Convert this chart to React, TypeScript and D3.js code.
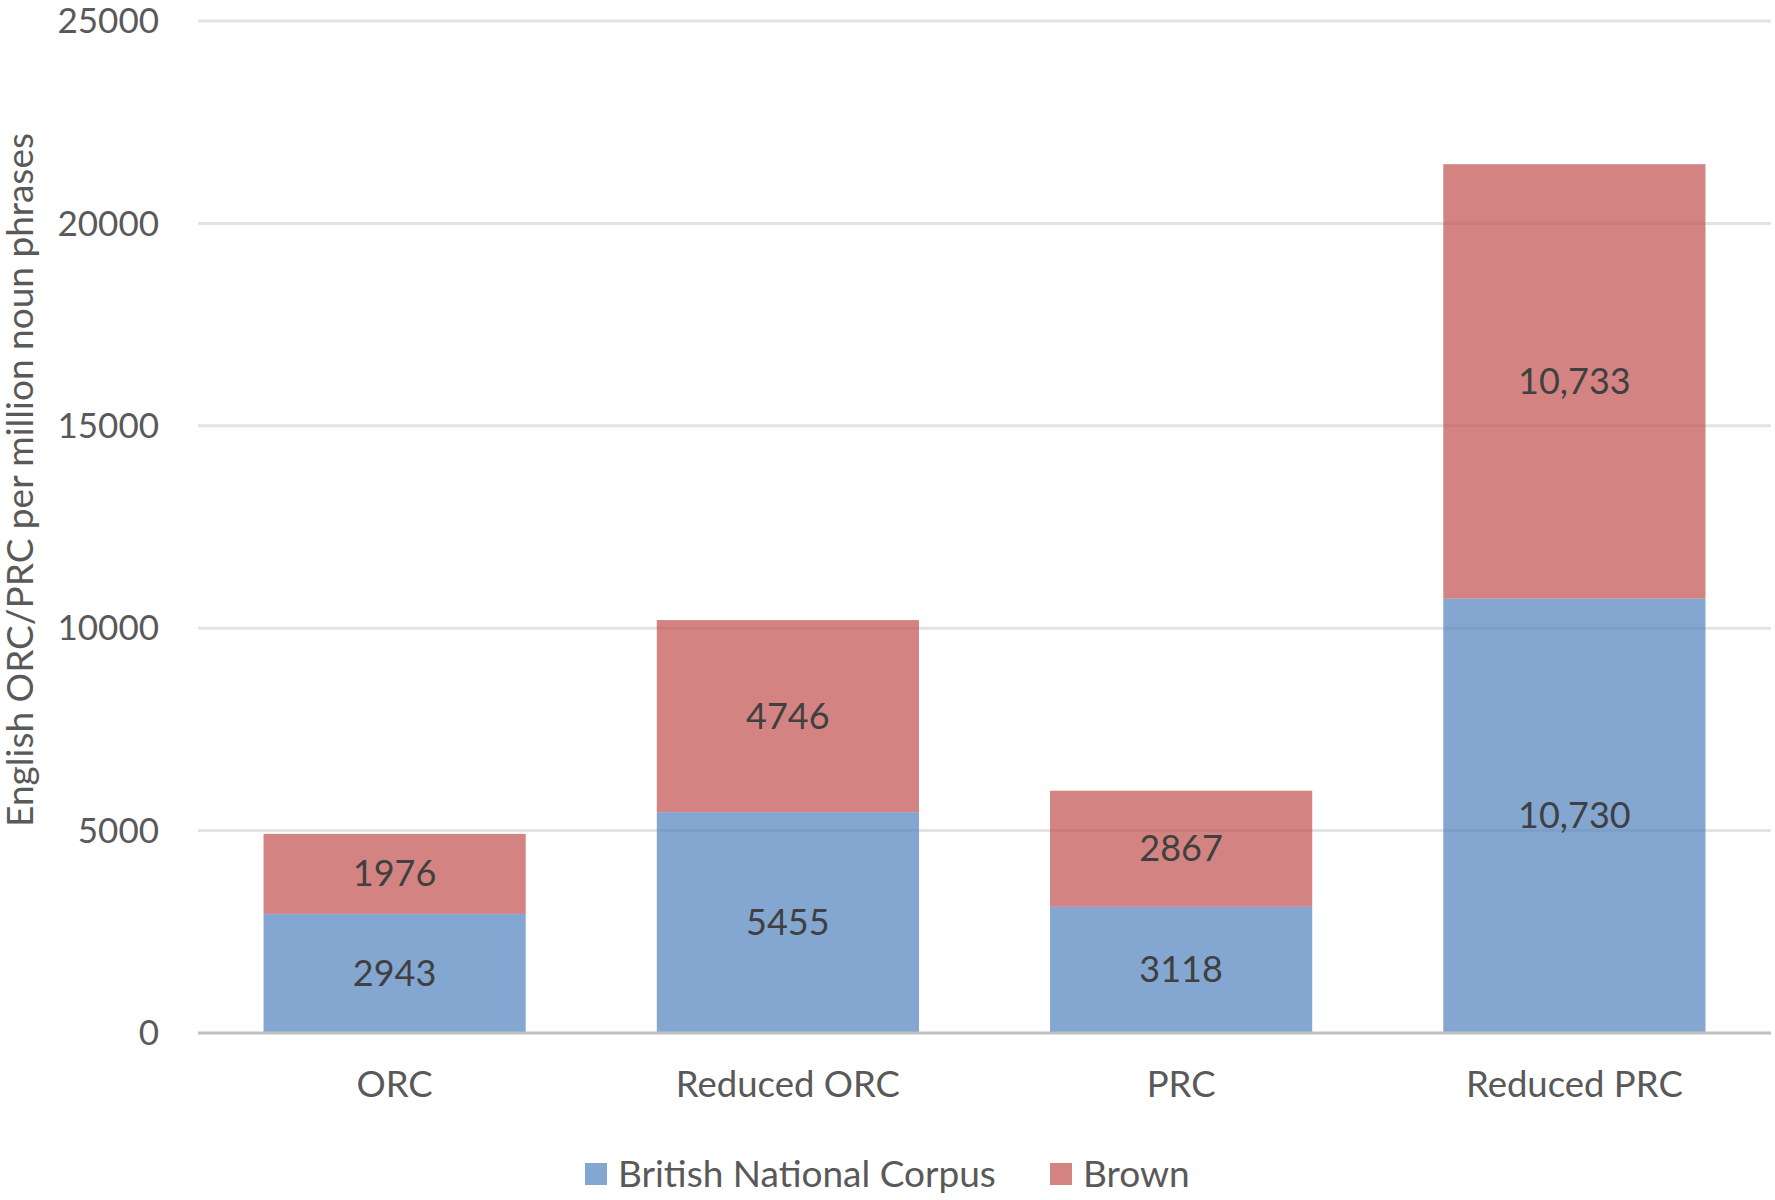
import React from "react";
import * as d3 from "d3";

const categories = ["ORC", "Reduced ORC", "PRC", "Reduced PRC"];
const seriesNames = ["British National Corpus", "Brown"];
const bncValues = [2943, 5455, 3118, 10730];
const brownValues = [1976, 4746, 2867, 10733];
const yTicks = [0, 5000, 10000, 15000, 20000, 25000];
const yTitle = "English ORC/PRC per million noun phrases";

const W = 1775;
const H = 1200;
const FONT = "Lato, 'Open Sans', sans-serif";
const colors = ["#4F81BD", "#C0504D"];

export default function App() {
  const x = d3.scaleBand<string>().domain(categories).range([198, 1771]).paddingInner(1 / 3).paddingOuter(1 / 6);
  const y = d3.scaleLinear().domain([0, 25000]).range([1033, 21]);

  const rows = categories.map((c, i) => ({ cat: c, bnc: bncValues[i], brown: brownValues[i] }));
  const stack = d3.stack<any>().keys(["bnc", "brown"]);
  const series = stack(rows);
  const fmt = (v: number) => (v >= 10000 ? d3.format(",")(v) : String(v));

  return (
    <svg width={W} height={H} style={{ position: "absolute", left: 0, top: 0, background: "#fff" }} fontFamily={FONT}>
      {yTicks.map((t) => (
        <g key={t}>
          {t !== 0 && <line x1={198} x2={1771} y1={y(t)} y2={y(t)} stroke="#E3E3E3" strokeWidth={3} />}
          <text x={159} y={y(t)} dy="0.35em" textAnchor="end" fontSize={35} fill="#595959">
            {t}
          </text>
        </g>
      ))}
      {series.map((s, si) =>
        s.map((d, i) => (
          <rect
            key={`${si}-${i}`}
            x={x(categories[i])}
            width={x.bandwidth()}
            y={y(d[1])}
            height={y(d[0]) - y(d[1])}
            fill={colors[si]}
            fillOpacity={0.7}
          />
        ))
      )}
      <line x1={198} x2={1771} y1={y(0)} y2={y(0)} stroke="#BFBFBF" strokeWidth={3} />
      {series.map((s, si) =>
        s.map((d, i) => (
          <text
            key={`l${si}-${i}`}
            x={(x(categories[i]) as number) + x.bandwidth() / 2}
            y={(y(d[0]) + y(d[1])) / 2}
            dy="0.35em"
            textAnchor="middle"
            fontSize={36}
            fill="#404040"
          >
            {fmt(d[1] - d[0])}
          </text>
        ))
      )}
      {categories.map((c) => (
        <text key={c} x={(x(c) as number) + x.bandwidth() / 2} y={1084} dy="0.35em" textAnchor="middle" fontSize={36.5} fill="#595959">
          {c}
        </text>
      ))}
      <text transform={`translate(20,480) rotate(-90)`} textAnchor="middle" dy="0.35em" fontSize={37} fill="#595959">
        {yTitle}
      </text>
      {seriesNames.map((n, i) => {
        const lx = [585, 1050][i];
        return (
          <g key={n}>
            <rect x={lx} y={1163} width={22} height={22} fill={colors[i]} fillOpacity={0.7} />
            <text x={lx + 33} y={1174} dy="0.35em" fontSize={37} fill="#595959">
              {n}
            </text>
          </g>
        );
      })}
    </svg>
  );
}
